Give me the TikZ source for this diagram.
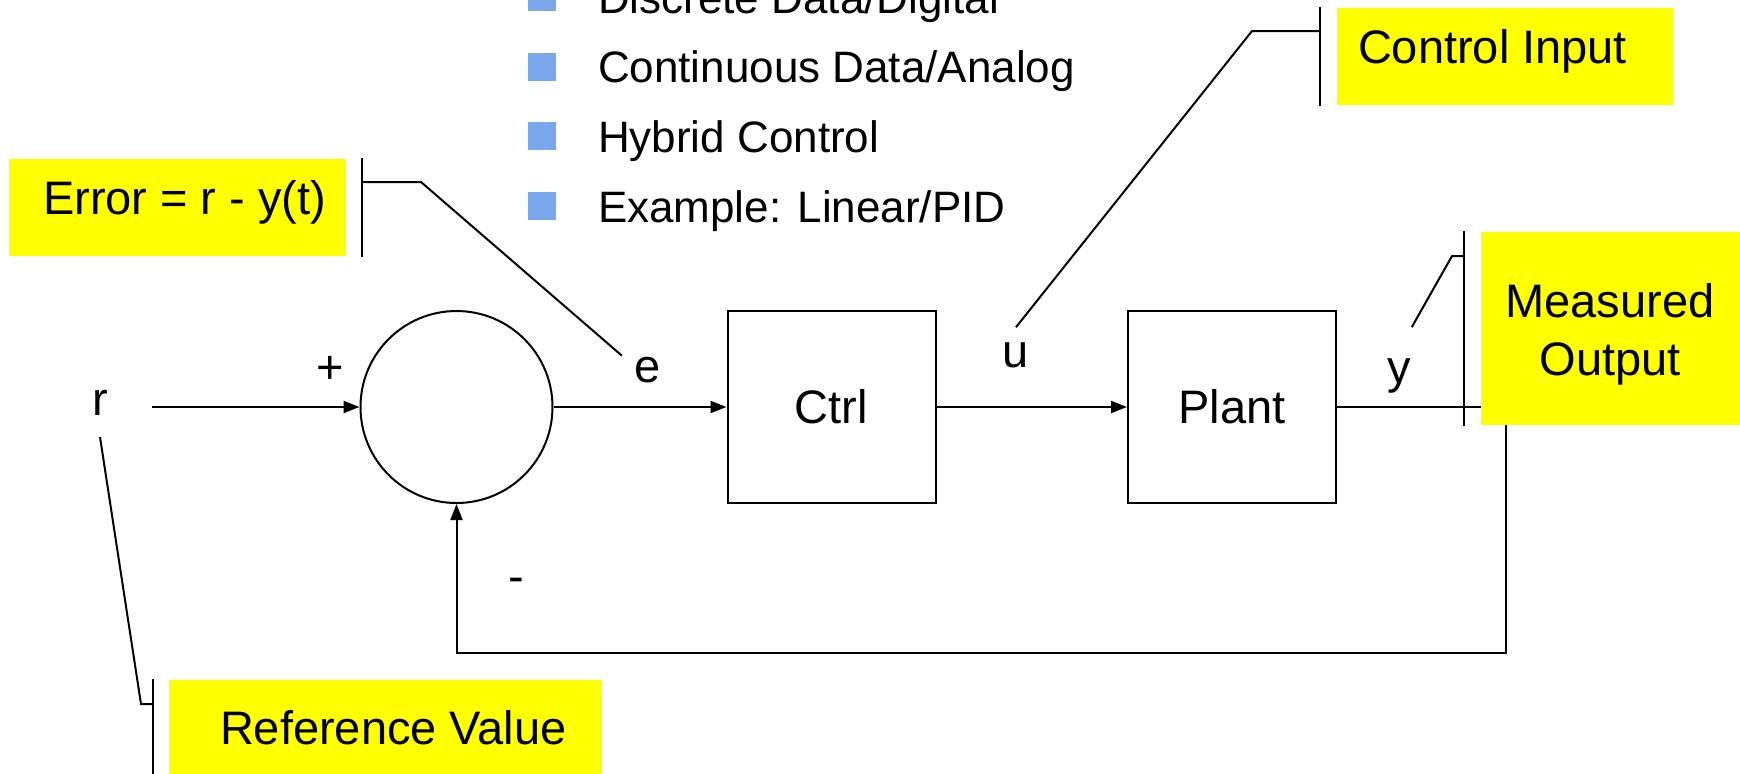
\documentclass[tikz,border=0pt]{standalone}
\usepackage{fontspec}
\setmainfont{Liberation Sans}
\usetikzlibrary{arrows.meta, positioning}
\definecolor{notefill}{RGB}{255,255,0}
\definecolor{bulletblue}{RGB}{122,167,235}

\begin{document}
\begin{tikzpicture}[x=0.5pt, y=-0.5pt, >={Triangle[length=8pt,width=6pt]}, line width=1pt,
    lbl/.style={font=\fontsize{23.5}{28.2}\selectfont, inner sep=0pt},
    itemtxt/.style={font=\fontsize{22}{26}\selectfont, inner sep=0pt, anchor=base west},
    blk/.style={draw, lbl, minimum width=104pt, minimum height=96pt},
    note/.style={fill=notefill, inner sep=0pt, anchor=north west},
    bullet/.style={fill=bulletblue, minimum size=14pt, inner sep=0pt, anchor=north west}]
  \clip (0,0) rectangle (1740,773);

  % list at the top
  \foreach \txt [count=\i] in {Discrete Data/Digital, Continuous Data/Analog, Hybrid Control, {Example: Linear/PID}} {
    \pgfmathsetmacro\yb{13+69.7*(\i-1)}
    \node[bullet] (sq\i) at (527,{\yb-31}) {};
    \node[itemtxt] (item\i) at (597,\yb) {\txt};
  }

  % loop: sum -> ctrl -> plant, feedback
  \node[draw, circle, minimum size=96pt, inner sep=0pt] (sum) at (456.5,407) {};
  \node[blk] (ctrl) at (831.5,407) {Ctrl};
  \node[blk] (plant) at (1232,407) {Plant};

  \node[lbl, anchor=base] (rlbl) at (100,415) {r};
  \node[lbl] (plus) at (330,370) {+};
  \node[lbl, anchor=base] (elbl) at (648,382) {e};
  \node[lbl, anchor=base] (ulbl) at (1016,367) {u};
  \node[lbl, anchor=base] (ylbl) at (1399,383) {y};
  \node[lbl, anchor=base] (minus) at (516,592) {-};

  \coordinate (rin) at (152,407);
  \coordinate (ytap) at (1506,407);
  \coordinate (fbcorner) at (1506,653);
  \draw[->] (rin) -- (sum.west);
  \draw[->] (sum.east) -- (ctrl.west);
  \draw[->] (ctrl.east) -- (plant.west);
  \draw[->] (plant.east) -- (ytap) -- (fbcorner) -| (sum.south);

  % yellow notes with their leaders
  \node[note, minimum width=168.5pt, minimum height=48.5pt] (errbox) at (8,158) {};
  \node[lbl, anchor=base west] (errtxt) at (42,214) {Error = r - y(t)};
  \draw ([xshift=7.5pt]errbox.north east) coordinate (errbar) -- ([xshift=7.5pt]errbox.south east);
  \draw ([yshift=-12pt]errbar) -- ++(59,0) -- ([xshift=-6pt]elbl.north west);

  \node[note, minimum width=168pt, minimum height=48.5pt] (ctlbox) at (1336,7) {};
  \node[lbl, anchor=base west] (ctltxt) at (1357,63) {Control Input};
  \draw ([xshift=-8pt]ctlbox.north west) coordinate (ctlbar) -- ([xshift=-8pt]ctlbox.south west);
  \draw ([yshift=-12pt]ctlbar) -- ++(-68,0) -- ([yshift=7pt]ulbl.north);

  \node[note, minimum width=130pt, minimum height=96.5pt] (measbox) at (1480,231) {};
  \node[lbl, font=\fontsize{23.5}{29}\selectfont, align=center, anchor=base] (meastxt) at (1610,375) {Measured\\Output};
  \draw ([xshift=-8pt]measbox.north west) coordinate (measbar) -- ([xshift=-8pt]measbox.south west);
  \draw ([yshift=-12.5pt]measbar) -- ++(-12,0) -- ([yshift=15pt]ylbl.north east);

  \node[note, minimum width=216.5pt, minimum height=50pt] (refbox) at (168,679) {};
  \node[lbl, anchor=base west] (reftxt) at (219,744) {Reference Value};
  \draw ([xshift=-7.5pt]refbox.north west) coordinate (refbar) -- ([xshift=-7.5pt]refbox.south west);
  \draw ([yshift=-12.5pt]refbar) -- ++(-12,0) -- ([yshift=-10.5pt]rlbl.south);
\end{tikzpicture}
\end{document}
